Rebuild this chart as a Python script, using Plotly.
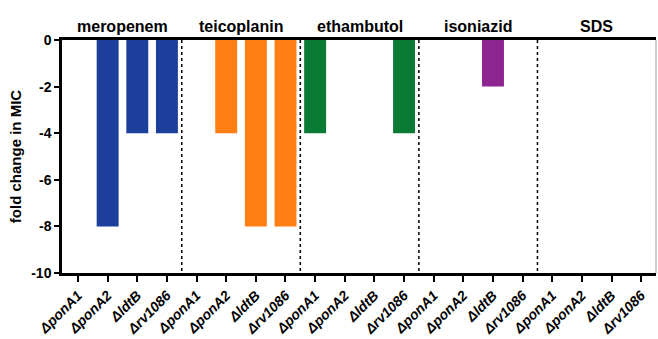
import plotly.graph_objects as go

drugs = ["meropenem", "teicoplanin", "ethambutol", "isoniazid", "SDS"]
strains = ["ponA1", "ponA2", "ldtB", "rv1086"]
values = {
    "meropenem":   [0, -8, -4, -4],
    "teicoplanin": [0, -4, -8, -8],
    "ethambutol":  [-4, 0, 0, -4],
    "isoniazid":   [0, 0, -2, 0],
    "SDS":         [0, 0, 0, 0],
}
colors = {
    "meropenem": "#1b3f9a",
    "teicoplanin": "#ff7f15",
    "ethambutol": "#0a7a35",
    "isoniazid": "#8d248f",
    "SDS": "#888888",
}
y_ticks = [0, -2, -4, -6, -8, -10]

FONT = "Liberation Sans, Arial, Helvetica, sans-serif"

fig = go.Figure()
xs, ticktext = [], []
for gi, d in enumerate(drugs):
    x = [gi * len(strains) + i for i in range(len(strains))]
    xs += x
    ticktext += [f"<b><i>Δ{s}</i></b>" for s in strains]
    fig.add_trace(go.Bar(
        x=x, y=values[d], width=0.74,
        marker=dict(color=colors[d], line=dict(width=0)),
        showlegend=False,
    ))
    fig.add_annotation(
        x=gi * len(strains) + (len(strains) - 1) / 2, y=1, xref="x", yref="paper",
        yanchor="bottom", yshift=3, text=f"<b>{d}</b>", showarrow=False,
        font=dict(size=16, color="black", family=FONT),
    )
    if gi > 0:
        fig.add_shape(type="line", xref="x", yref="y",
                      x0=gi * len(strains) - 0.5, x1=gi * len(strains) - 0.5,
                      y0=0, y1=-10, line=dict(color="black", width=1.5, dash="dot"))

# thin right border
fig.add_shape(type="line", xref="paper", yref="paper", x0=1, x1=1, y0=0, y1=1,
              line=dict(color="#999999", width=1))

fig.update_layout(
    width=658, height=339,
    margin=dict(l=62, r=2, t=40, b=66),
    plot_bgcolor="white", paper_bgcolor="white",
    barmode="overlay",
    font=dict(family=FONT, color="black"),
    xaxis=dict(
        range=[-0.54, 19.5], tickvals=xs, ticktext=ticktext, tickangle=-45,
        showline=True, linecolor="black", linewidth=2.5, mirror=True,
        ticks="outside", ticklen=6, tickwidth=2, tickcolor="black",
        tickfont=dict(size=14, family=FONT), showgrid=False, zeroline=False,
        automargin=False,
    ),
    yaxis=dict(
        range=[-10, 0], tickvals=y_ticks, ticktext=[f"<b>{v}</b>" for v in y_ticks],
        showline=True, linecolor="black", linewidth=2.5,
        ticks="outside", ticklen=5, tickwidth=2, tickcolor="black",
        tickfont=dict(size=14, family=FONT), showgrid=False, zeroline=False,
        title=dict(text="<b>fold change in MIC</b>", font=dict(size=15, family=FONT), standoff=6),
        automargin=False,
    ),
)

fig.write_html("out.html", config={"displayModeBar": False},
               post_script="document.body.style.margin='0';")
